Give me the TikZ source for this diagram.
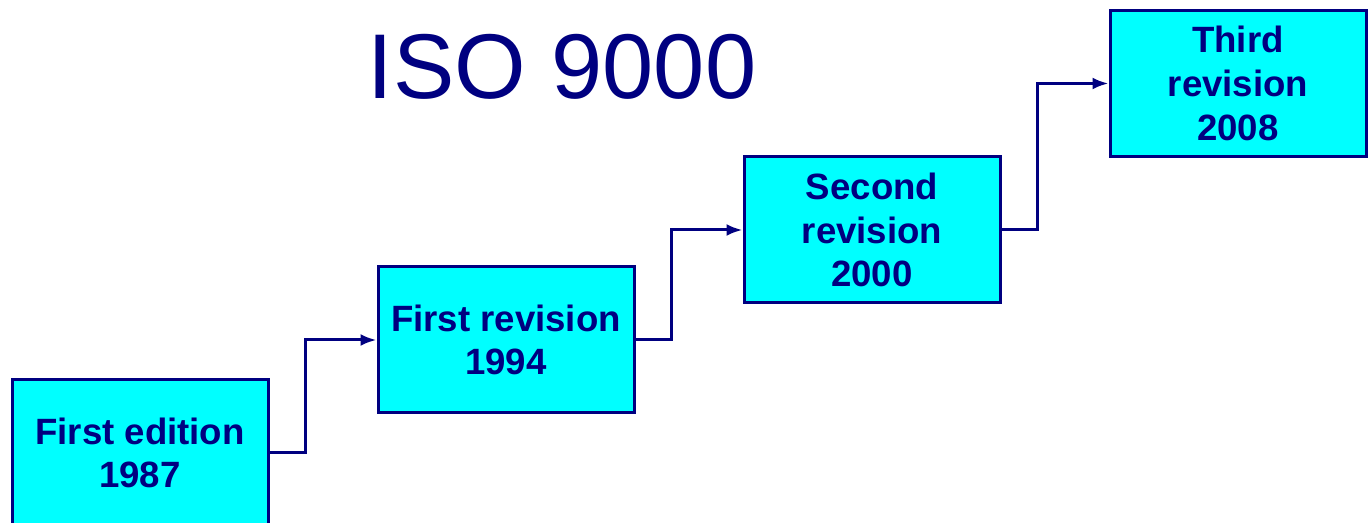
\documentclass[tikz,border=0pt]{standalone}
\usepackage{fontspec}
\setmainfont{Liberation Sans}
\usetikzlibrary{arrows.meta}
\definecolor{isoNavy}{RGB}{0,0,128}
\definecolor{isoCyan}{RGB}{0,255,255}
\tikzstyle{timeline} = [x = 0.5pt, y = -0.5pt]
\tikzstyle{editionBox} = [draw=isoNavy, fill=isoCyan, line width=1.5pt, minimum width=128pt, minimum height=73pt, inner sep=0pt, align=center, text=isoNavy, font=\fontsize{18.3}{21.8}\selectfont\bfseries]
\tikzstyle{stepLine} = [color=isoNavy, line width=1.5pt, -{Latex[length=8pt, width=6pt]}]
\tikzstyle{titleText} = [text=isoNavy, font=\fontsize{46}{50}\selectfont, inner sep=0pt]
\newcommand{\editionNode}[4]{\node [editionBox] (#1) at (#2, #3) {#4};}
\newcommand{\stepArrow}[2]{\draw [stepLine] (#1.east) -- ++(36, 0) |- (#2.west);}
\begin{document}
\begin{tikzpicture}[timeline]
  \useasboundingbox (0, 0) rectangle (1372, 523);
  \node [titleText] (title) at (562, 67) {ISO 9000};

  \editionNode{firstEdition}{140}{453}{First edition\\1987}
  \editionNode{firstRevision}{506}{340}{First revision\\1994}
  \editionNode{secondRevision}{872}{230}{Second\\revision\\2000}
  \editionNode{thirdRevision}{1238}{83.5}{Third\\revision\\2008}

  \stepArrow{firstEdition}{firstRevision}
  \stepArrow{firstRevision}{secondRevision}
  \stepArrow{secondRevision}{thirdRevision}
\end{tikzpicture}
\end{document}
